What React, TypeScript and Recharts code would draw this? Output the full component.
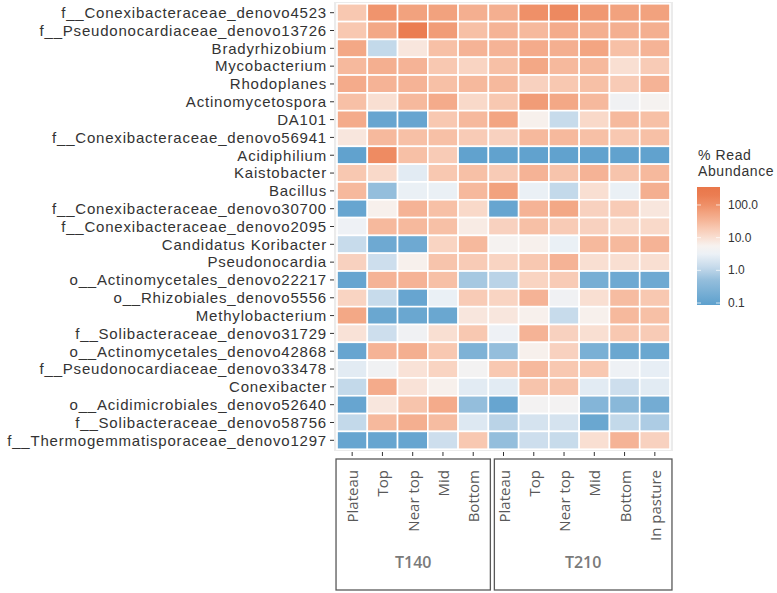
import * as React from "react";
import { ScatterChart, Scatter, XAxis, YAxis, Legend, ReferenceArea } from "recharts";

const taxa = [
  "f__Conexibacteraceae_denovo4523",
  "f__Pseudonocardiaceae_denovo13726",
  "Bradyrhizobium",
  "Mycobacterium",
  "Rhodoplanes",
  "Actinomycetospora",
  "DA101",
  "f__Conexibacteraceae_denovo56941",
  "Acidiphilium",
  "Kaistobacter",
  "Bacillus",
  "f__Conexibacteraceae_denovo30700",
  "f__Conexibacteraceae_denovo2095",
  "Candidatus Koribacter",
  "Pseudonocardia",
  "o__Actinomycetales_denovo22217",
  "o__Rhizobiales_denovo5556",
  "Methylobacterium",
  "f__Solibacteraceae_denovo31729",
  "o__Actinomycetales_denovo42868",
  "f__Pseudonocardiaceae_denovo33478",
  "Conexibacter",
  "o__Acidimicrobiales_denovo52640",
  "f__Solibacteraceae_denovo58756",
  "f__Thermogemmatisporaceae_denovo1297",
];

const columns = ["Plateau", "Top", "Near top", "Mid", "Bottom", "Plateau", "Top", "Near top", "Mid", "Bottom", "In pasture"];

const groups = [
  { label: "T140", from: 0, to: 4 },
  { label: "T210", from: 5, to: 10 },
];

// % read abundance, one row per taxon, columns as above
const abundance = [
  [20, 90, 60, 60, 40, 40, 100, 130, 80, 60, 60],
  [20, 50, 200, 70, 25, 35, 30, 45, 40, 40, 40],
  [50, 1.2, 8, 25, 35, 35, 45, 40, 55, 25, 35],
  [30, 40, 35, 20, 14, 25, 50, 30, 30, 10, 18],
  [45, 35, 35, 25, 30, 30, 15, 20, 25, 18, 35],
  [25, 10, 30, 45, 12, 20, 70, 50, 30, 4, 5],
  [45, 0.12, 0.12, 20, 30, 55, 6, 1.3, 12, 30, 25],
  [8, 30, 25, 25, 18, 15, 30, 30, 25, 20, 25],
  [0.1, 120, 25, 18, 0.1, 0.1, 0.1, 0.1, 0.1, 0.1, 0.1],
  [20, 12, 2.5, 20, 25, 18, 35, 22, 35, 22, 30],
  [30, 0.5, 3, 3, 30, 60, 3, 1.2, 10, 3, 40],
  [0.12, 6, 35, 25, 12, 0.12, 35, 50, 15, 18, 8],
  [3.5, 30, 30, 25, 7, 15, 25, 18, 15, 12, 12],
  [1.3, 0.15, 0.15, 14, 30, 5, 6, 3, 30, 30, 35],
  [15, 1.5, 6, 22, 18, 14, 20, 35, 10, 10, 10],
  [0.12, 35, 35, 25, 0.7, 1.0, 14, 18, 0.2, 0.15, 0.15],
  [14, 1.3, 0.12, 3, 18, 14, 35, 4, 10, 28, 20],
  [50, 0.13, 0.13, 0.13, 8, 8, 6, 1.3, 6, 30, 25],
  [9, 1.5, 4, 10, 20, 3.5, 35, 15, 10, 20, 18],
  [0.12, 35, 40, 20, 0.25, 0.5, 6, 15, 0.22, 0.13, 0.13],
  [2.5, 4, 9, 14, 4.5, 20, 30, 20, 20, 3.5, 2.8],
  [1.2, 45, 9, 6, 2.5, 2.5, 22, 22, 2.5, 1.5, 2.5],
  [0.12, 8, 22, 45, 0.5, 0.12, 4.5, 4.5, 0.3, 0.35, 0.18],
  [1.2, 30, 40, 28, 2.2, 1.0, 1.8, 1.8, 0.13, 1.2, 0.8],
  [0.12, 0.12, 0.12, 1.5, 20, 0.5, 1.5, 1.3, 10, 35, 15],
];

const legendTicks = [100, 10, 1, 0.1];

// colour ramp in log10 space
const STOPS: [number, string][] = [
  [-1.1, "#5a9ecc"],
  [-0.3, "#94bedc"],
  [0.1, "#c6daeb"],
  [0.5, "#ecf1f6"],
  [0.75, "#f7f2ef"],
  [1.0, "#f9dfd2"],
  [1.3, "#f8c8b1"],
  [1.55, "#f5b395"],
  [1.8, "#f2a07c"],
  [2.0, "#ef9068"],
  [2.3, "#eb7d52"],
  [2.6, "#e97649"],
];

const hex = (h: string) => [1, 3, 5].map((i) => parseInt(h.slice(i, i + 2), 16));
function colorAt(t: number) {
  if (t <= STOPS[0][0]) return STOPS[0][1];
  for (let i = 1; i < STOPS.length; i++) {
    if (t <= STOPS[i][0]) {
      const [t0, c0] = STOPS[i - 1];
      const [t1, c1] = STOPS[i];
      const f = (t - t0) / (t1 - t0);
      const a = hex(c0), b = hex(c1);
      const m = a.map((v, k) => Math.round(v + (b[k] - v) * f));
      return `rgb(${m[0]},${m[1]},${m[2]})`;
    }
  }
  return STOPS[STOPS.length - 1][1];
}
const colorFor = (v: number) => colorAt(Math.log10(v));

// layout
const W = 777;
const H = 593;
const PLOT_L = 334;
const PLOT_R = 673;
const PLOT_T = 2;
const PLOT_B = 451;
const X_DOMAIN = [-0.6, 10.6];
const Y_DOMAIN = [-0.6, 24.6];
const CELL_W = (PLOT_R - PLOT_L) / (X_DOMAIN[1] - X_DOMAIN[0]);
const CELL_H = (PLOT_B - PLOT_T) / (Y_DOMAIN[1] - Y_DOMAIN[0]);

const cells = taxa.flatMap((name, r) => abundance[r].map((v, c) => ({ x: c, y: r, v, name })));

function Tile(props: any) {
  const { cx, cy, payload } = props;
  if (cx == null || cy == null) return null;
  return (
    <rect
      x={cx - CELL_W / 2}
      y={cy - CELL_H / 2}
      width={CELL_W}
      height={CELL_H}
      fill={colorFor(payload.v)}
      stroke="#ffffff"
      strokeWidth={1.6}
    />
  );
}

function ColumnTick(props: any) {
  const { x, y, payload } = props;
  const i = payload.value as number;
  const g = groups.findIndex((gr) => gr.from === i);
  let box = null;
  if (g >= 0) {
    const gr = groups[g];
    const left = x - CELL_W / 2 + (g ? 6 : -1);
    const right = x + (gr.to - gr.from) * CELL_W + CELL_W / 2 + 2;
    box = (
      <g>
        <rect x={left} y={y + 8} width={right - left} height={131} fill="none" stroke="#595959" strokeWidth={1.3} />
        <text
          x={(left + right) / 2}
          y={y + 111}
          textAnchor="middle"
          dominantBaseline="central"
          fontFamily="Open Sans"
          fontWeight={600}
          fontSize={16}
          fill="#7a7a7a"
        >
          {gr.label}
        </text>
      </g>
    );
  }
  return (
    <g>
      {box}
      <line x1={x} x2={x} y1={y + 1} y2={y + 5} stroke="#333" strokeWidth={1} />
      <text
        transform={`translate(${x},${y + 19}) rotate(-90)`}
        textAnchor="end"
        dominantBaseline="central"
        fontFamily="Open Sans"
        fontSize={15}
        fill="#595959"
      >
        {columns[i]}
      </text>
    </g>
  );
}

// colour bar legend
const LG_X = 697;
const LG_TOP = 187;
const LG_BOT = 305;
const LG_W = 23;
const legY = (v: number) => 303 - 32.67 * (Math.log10(v) + 1);
const legLog = (y: number) => (303 - y) / 32.67 - 1;

function ColorBar() {
  const ox = 680;
  const oy = 130;
  const topLog = legLog(LG_TOP);
  const botLog = legLog(LG_BOT);
  return (
    <svg width={97} height={200} style={{ display: "block" }}>
      <defs>
        <linearGradient id="abund" x1="0" y1="1" x2="0" y2="0">
          {STOPS.filter((s) => s[0] >= botLog && s[0] <= topLog)
            .concat([[botLog, colorAt(botLog)], [topLog, colorAt(topLog)]] as [number, string][])
            .sort((a, b) => a[0] - b[0])
            .map((s, k) => (
              <stop key={k} offset={(s[0] - botLog) / (topLog - botLog)} stopColor={colorAt(s[0])} />
            ))}
        </linearGradient>
      </defs>
      <text x={18} y={160 - oy} fontFamily="Liberation Sans, Arial" fontSize={14} letterSpacing={0.6} fill="#333">
        % Read
      </text>
      <text x={18} y={176 - oy} fontFamily="Liberation Sans, Arial" fontSize={14} letterSpacing={0.6} fill="#333">
        Abundance
      </text>
      <rect x={LG_X - ox} y={LG_TOP - oy} width={LG_W} height={LG_BOT - LG_TOP} fill="url(#abund)" />
      {legendTicks.map((v) => (
        <g key={v}>
          <line x1={LG_X - ox} x2={LG_X - ox + 4} y1={legY(v) - oy} y2={legY(v) - oy} stroke="#fff" strokeOpacity={0.7} />
          <line x1={LG_X - ox + LG_W - 4} x2={LG_X - ox + LG_W} y1={legY(v) - oy} y2={legY(v) - oy} stroke="#fff" strokeOpacity={0.7} />
          <text
            x={728 - ox}
            y={legY(v) - oy}
            dominantBaseline="central"
            fontFamily="Liberation Sans, Arial"
            fontSize={12}
            fill="#333"
          >
            {v.toFixed(1)}
          </text>
        </g>
      ))}
    </svg>
  );
}

export default function App() {
  return (
    <div style={{ position: "absolute", left: 0, top: 0, width: W, height: H, background: "#fff" }}>
      <ScatterChart width={W} height={H} margin={{ top: PLOT_T, right: W - PLOT_R, bottom: 0, left: 0 }}>
        <XAxis
          dataKey="x"
          type="number"
          domain={X_DOMAIN}
          ticks={columns.map((_, i) => i)}
          interval={0}
          height={H - PLOT_B - 0}
          axisLine={false}
          tickLine={false}
          tickSize={0}
          tickMargin={0}
          tick={<ColumnTick />}
        />
        <YAxis
          dataKey="y"
          type="number"
          domain={Y_DOMAIN}
          reversed
          ticks={taxa.map((_, i) => i)}
          tickFormatter={(i: number) => taxa[i]}
          interval={0}
          width={PLOT_L}
          axisLine={false}
          tickLine={{ stroke: "#333" }}
          tickSize={4}
          tickMargin={3}
          tick={{ fontSize: 15, fill: "#333", fontFamily: "Liberation Sans, Arial", letterSpacing: 0.8 }}
        />
        <ReferenceArea x1={X_DOMAIN[0]} x2={X_DOMAIN[1]} y1={Y_DOMAIN[0]} y2={Y_DOMAIN[1]} fill="#ebebeb" fillOpacity={1} stroke="none" />
        <Scatter data={cells} shape={<Tile />} isAnimationActive={false} />
        <Legend
          layout="horizontal"
          verticalAlign="middle"
          align="center"
          content={() => <ColorBar />}
          wrapperStyle={{ position: "absolute", left: 680, top: 130, width: 97, height: 200 }}
        />
      </ScatterChart>
    </div>
  );
}
